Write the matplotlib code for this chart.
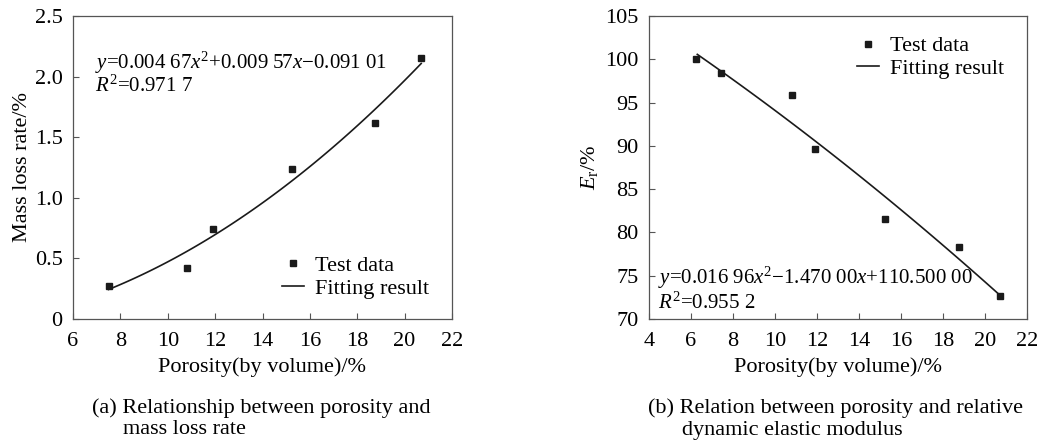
import numpy as np
import matplotlib
matplotlib.use("Agg")
import matplotlib.pyplot as plt

plt.rcParams["font.family"] = ["Liberation Serif", "DejaVu Serif"]
plt.rcParams["mathtext.fontset"] = "custom"
plt.rcParams["mathtext.rm"] = "Liberation Serif"
plt.rcParams["mathtext.it"] = "Liberation Serif:italic"
plt.rcParams["font.size"] = 16

# (a) porosity vs mass loss rate
por_a = [7.5, 10.8, 11.9, 15.25, 18.75, 20.7]
mass_loss = [0.27, 0.42, 0.74, 1.24, 1.62, 2.15]
coef_a = [0.00467, 0.00957, -0.09101]

# (b) porosity vs relative dynamic elastic modulus
por_b = [6.25, 7.45, 10.8, 11.9, 15.25, 18.75, 20.7]
er = [100.0, 98.4, 95.9, 89.6, 81.5, 78.3, 72.6]

LINE_COLOR = "#1a1a1a"
SPINE_COLOR = "#555555"
W, H = 1040, 445


def style_axes(ax):
    for s in ax.spines.values():
        s.set_color(SPINE_COLOR)
        s.set_linewidth(0.9)
    ax.tick_params(direction="in", length=4, width=0.8, color=SPINE_COLOR,
                   top=False, right=False, labelsize=16)
    ax.tick_params(axis="x", pad=9)
    ax.tick_params(axis="y", pad=7.5)


fig = plt.figure(figsize=(W / 100, H / 100), dpi=100)
ax1 = fig.add_axes([73 / W, 1 - 319 / H, 379 / W, 303 / H])
ax2 = fig.add_axes([649 / W, 1 - 319 / H, 378 / W, 303 / H])

leg_kw = dict(frameon=False, fontsize=16, handlelength=1.0, borderpad=0,
              labelspacing=0.1, handletextpad=0.5, borderaxespad=0,
              loc="center left")

# left panel
xa = np.linspace(por_a[0], por_a[-1], 100)
ax1.plot(por_a, mass_loss, "s", color=LINE_COLOR, ms=4, label="Test data")
ax1.plot(xa, np.polyval(coef_a, xa), "-", color=LINE_COLOR, lw=1.2,
         label="Fitting result")
ax1.set_xlim(6, 22)
ax1.set_ylim(0, 2.5)
ax1.set_xticks(range(6, 23, 2))
ax1.set_yticks([0, 0.5, 1.0, 1.5, 2.0, 2.5])
ax1.set_yticklabels(["0", "0.5", "1.0", "1.5", "2.0", "2.5"])
ax1.set_xlabel("Porosity(by volume)/%", fontsize=16, labelpad=5)
ax1.set_ylabel("Mass loss rate/%", fontsize=16, labelpad=2)
ax1.text(0.058, 0.845, "$y$=0.004 67$x^2$+0.009 57$x$\u22120.091 01",
         transform=ax1.transAxes, fontsize=15, va="center")
ax1.text(0.058, 0.769, "$R^2$=0.971 7", transform=ax1.transAxes,
         fontsize=15, va="center")
ax1.legend(bbox_to_anchor=(0.551, 0.139), **leg_kw)
style_axes(ax1)

# right panel
coef_b = np.polyfit(por_b, er, 2)
xb = np.linspace(6.3, 20.7, 100)
ax2.plot(por_b, er, "s", color=LINE_COLOR, ms=4, label="Test data")
ax2.plot(xb, np.polyval(coef_b, xb), "-", color=LINE_COLOR, lw=1.2,
         label="Fitting result")
ax2.set_xlim(4, 22)
ax2.set_ylim(70, 105)
ax2.set_xticks(range(4, 23, 2))
ax2.set_yticks(range(70, 106, 5))
ax2.set_xlabel("Porosity(by volume)/%", fontsize=16, labelpad=5)
ax2.set_ylabel("$E_{\\mathrm{r}}$/%", fontsize=16, labelpad=4)
ax2.text(0.024, 0.135, "$y$=0.016 96$x^2$\u22121.470 00$x$+110.500 00",
         transform=ax2.transAxes, fontsize=15, va="center")
ax2.text(0.024, 0.053, "$R^2$=0.955 2", transform=ax2.transAxes,
         fontsize=15, va="center")
ax2.legend(bbox_to_anchor=(0.550, 0.863), **leg_kw)
style_axes(ax2)

# captions
fig.text(92 / W, 1 - 408 / H, "(a) Relationship between porosity and",
         fontsize=16, va="center")
fig.text(123 / W, 1 - 430 / H, "mass loss rate", fontsize=16, va="center")
fig.text(648 / W, 1 - 408 / H,
         "(b) Relation between porosity and relative", fontsize=16, va="center")
fig.text(682 / W, 1 - 430 / H, "dynamic elastic modulus", fontsize=16,
         va="center")

fig.savefig("out.png", dpi=100)
